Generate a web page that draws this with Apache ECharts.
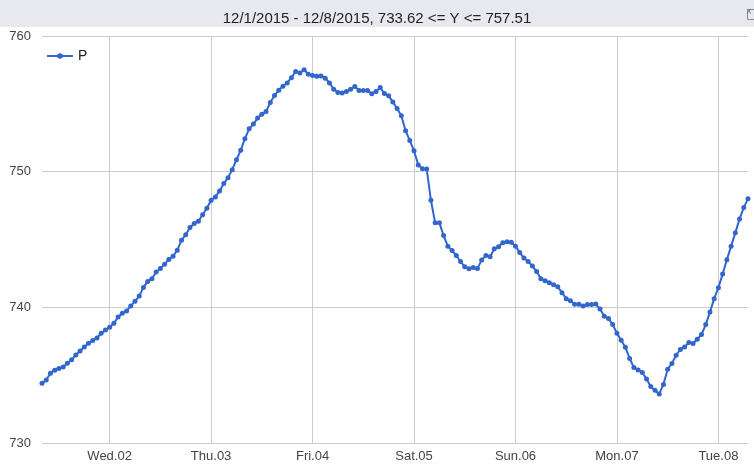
<!DOCTYPE html>
<html>
<head>
<meta charset="utf-8">
<script src="https://cdn.jsdelivr.net/npm/echarts@6/dist/echarts.min.js"></script>
<style>
html,body{margin:0;padding:0;background:#fff;}
#chart{width:754px;height:466px;}
</style>
</head>
<body>
<div id="chart"></div>
<script>
// Hourly series, starting 12/1/2015 08:00
const startYear = 2015, startMonth = 11, startDay = 1, startHour = 8;
const seriesName = 'P';
const titleText = '12/1/2015 - 12/8/2015, 733.62 <= Y <= 757.51';
const yTicks = [730, 740, 750, 760];
const dayNames = ['Sun', 'Mon', 'Tue', 'Wed', 'Thu', 'Fri', 'Sat'];
const pValues = [
  734.41, 734.65, 735.15, 735.37, 735.49, 735.61, 735.88, 736.13, 736.49, 736.79,
  737.08, 737.35, 737.55, 737.74, 738.09, 738.33, 738.53, 738.82, 739.29, 739.56,
  739.73, 740.10, 740.44, 740.83, 741.47, 741.91, 742.11, 742.60, 742.87, 743.18,
  743.53, 743.77, 744.21, 744.95, 745.35, 745.88, 746.18, 746.35, 746.82, 747.30,
  747.89, 748.14, 748.58, 749.12, 749.56, 750.15, 750.88, 751.57, 752.43, 753.16,
  753.51, 753.95, 754.24, 754.43, 755.10, 755.61, 756.01, 756.30, 756.54, 756.93,
  757.38, 757.28, 757.51, 757.18, 757.08, 757.04, 757.06, 756.89, 756.54, 756.08,
  755.83, 755.79, 755.90, 756.08, 756.27, 755.98, 755.98, 755.98, 755.74, 755.90,
  756.20, 755.76, 755.59, 755.13, 754.65, 754.12, 753.01, 752.30, 751.54, 750.49,
  750.22, 750.20, 747.89, 746.23, 746.23, 745.29, 744.51, 744.19, 743.82, 743.38,
  742.99, 742.85, 742.94, 742.87, 743.48, 743.82, 743.73, 744.32, 744.46, 744.76,
  744.83, 744.80, 744.51, 744.05, 743.63, 743.38, 743.04, 742.65, 742.11, 741.96,
  741.82, 741.67, 741.52, 741.08, 740.64, 740.49, 740.22, 740.22, 740.10, 740.20,
  740.20, 740.24, 739.87, 739.34, 739.17, 738.73, 738.09, 737.58, 737.06, 736.23,
  735.57, 735.39, 735.20, 734.71, 734.17, 733.88, 733.62, 734.32, 735.44, 735.86,
  736.47, 736.89, 737.08, 737.40, 737.33, 737.65, 737.99, 738.73, 739.65, 740.64,
  741.45, 742.45, 743.51, 744.51, 745.49, 746.52, 747.35, 748.01
];

function pad(n){ return (n < 10 ? '0' : '') + n; }
const hourDates = pValues.map((_, i) => new Date(startYear, startMonth, startDay, startHour + i));
const categories = hourDates.map(d => d.getFullYear() + '-' + pad(d.getMonth()+1) + '-' + pad(d.getDate()) + ' ' + pad(d.getHours()) + ':00');
const isMidnight = (idx) => hourDates[idx] && hourDates[idx].getHours() === 0;

const FONT = "'Liberation Sans', Arial, sans-serif";
const chart = echarts.init(document.getElementById('chart'), null, {renderer: 'canvas'});
chart.setOption({
  animation: false,
  backgroundColor: '#ffffff',
  textStyle: {fontFamily: FONT},
  graphic: [
    {type: 'rect', left: 0, top: 0, z: -1, shape: {width: 754, height: 27}, style: {fill: '#e8e9ee'}},
    {type: 'rect', left: 745, top: 7, z: 10, shape: {width: 9, height: 10}, style: {fill: 'none', stroke: '#888', lineWidth: 1}},
    {type: 'text', left: 746, top: 7, z: 10, style: {text: '×', fill: '#777', font: '10px ' + FONT}}
  ],
  title: {
    text: titleText,
    left: 'center',
    top: 6,
    textStyle: {fontFamily: FONT, fontSize: 15, fontWeight: 'normal', color: '#222'}
  },
  legend: {
    data: [seriesName],
    left: 41,
    top: 44,
    itemWidth: 26,
    itemHeight: 7,
    itemGap: 6,
    textStyle: {fontFamily: FONT, fontSize: 14, color: '#222'}
  },
  grid: {left: 42, right: 6, top: 36, bottom: 23, containLabel: false},
  xAxis: {
    type: 'category',
    data: categories,
    boundaryGap: false,
    axisLine: {show: false},
    axisTick: {show: false},
    axisLabel: {
      interval: (idx) => isMidnight(idx),
      formatter: (v, idx) => {
        const d = hourDates[idx];
        return dayNames[d.getDay()] + '.' + pad(d.getDate());
      },
      color: '#444',
      fontSize: 13,
      fontFamily: FONT,
      margin: 7
    },
    splitLine: {show: true, interval: (idx) => isMidnight(idx), lineStyle: {color: '#cccccc', width: 1}}
  },
  yAxis: {
    type: 'value',
    min: yTicks[0],
    max: yTicks[yTicks.length - 1],
    interval: 10,
    axisLine: {show: false},
    axisTick: {show: false},
    axisLabel: {color: '#444', fontSize: 13, fontFamily: FONT, margin: 11, padding: [0, 0, 2, 0]},
    splitLine: {show: true, lineStyle: {color: '#cccccc', width: 1}}
  },
  series: [{
    name: seriesName,
    type: 'line',
    data: pValues,
    symbol: 'circle',
    symbolSize: 5,
    showSymbol: true,
    showAllSymbol: true,
    lineStyle: {color: '#3366cc', width: 2},
    itemStyle: {color: '#3366cc'}
  }]
});
</script>
</body>
</html>
